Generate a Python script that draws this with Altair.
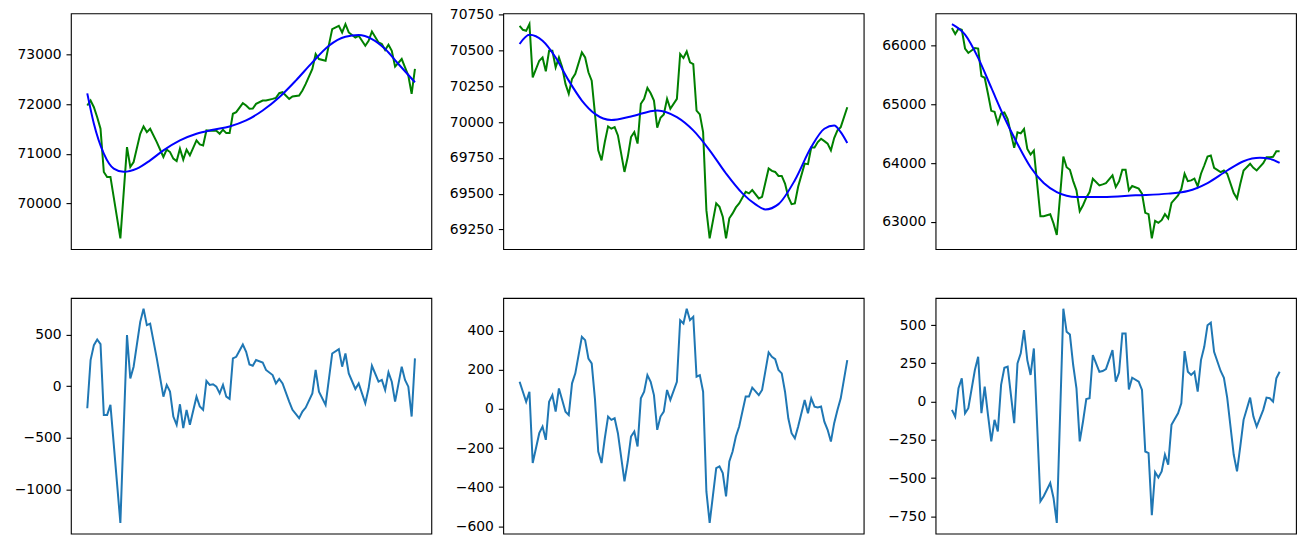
import altair as alt
import pandas as pd

# ---------------- panel 1 ----------------
T1 = [0, 1, 2, 3, 4, 5, 6, 7, 10, 12, 13, 14, 16, 17, 18, 19, 21, 23, 24, 25,
      26, 27, 28, 29, 30, 31, 33, 34, 35, 36, 37, 38, 39, 40, 41, 42, 43, 44, 45, 47,
      48, 49, 50, 51, 53, 54, 56, 57, 58, 59, 61, 62, 64, 65, 66, 68, 69, 70, 72, 74,
      76, 77, 78, 79, 81, 82, 84, 85, 86, 88, 89, 90, 91, 92, 93, 95, 96, 97, 98, 99]
PRICE1 = [71974, 72074, 71940, 71738, 71505, 70632, 70531, 70531, 69292, 71135,
          70733, 70833, 71404, 71551, 71437, 71505, 71236, 70934, 71083, 71034,
          70901, 70853, 71103, 70881, 71083, 70968, 71270, 71189, 71169, 71471,
          71464, 71471, 71464, 71404, 71485, 71417, 71417, 71807, 71841, 72022,
          71974, 71907, 71914, 72008, 72074, 72074, 72108, 72128, 72222, 72242,
          72108, 72155, 72175, 72276, 72410, 72712, 73014, 72913, 72879, 73517,
          73583, 73449, 73618, 73449, 73348, 73382, 73181, 73282, 73469, 73248,
          73215, 73095, 73201, 73080, 72759, 72913, 72745, 72577, 72209, 72712]
RESID1 = [-215, 253, 398, 453, 408, -279, -279, -182, -1327, 495,
          75, 189, 624, 752, 592, 607, 269, -102, 12, -53,
          -295, -375, -176, -408, -230, -375, -102, -198, -230, 50,
          12, 18, -5, -70, 12, -102, -124, 269, 285, 404,
          334, 211, 198, 253, 230, 157, 108, 27, 70, 27,
          -150, -230, -311, -247, -208, -70, 157, -53, -182, 317,
          360, 189, 317, 124, -27, 27, -166, -21, 198, 43,
          60, -37, 134, 43, -150, 189, 60, -5, -295, 269]
TREND_T1 = [0, 2, 5, 8, 11, 15, 19, 23, 28, 33, 38, 43, 48, 53, 58, 63, 68, 73,
            78, 82, 86, 90, 94, 99]
TREND1 = [72220, 71606, 71002, 70700, 70635, 70700, 70867, 71068, 71270, 71404,
          71485, 71551, 71672, 71873, 72141, 72477, 72845, 73181, 73362, 73396,
          73316, 73115, 72813, 72443]

# ---------------- panel 2 ----------------
T2 = [0, 1, 2, 3, 4, 6, 7, 8, 9, 10, 11, 12, 13, 14, 15, 16, 17, 19, 20, 21,
      22, 23, 24, 25, 26, 27, 28, 29, 30, 32, 33, 34, 35, 36, 37, 38, 39, 40, 41, 42,
      43, 44, 45, 46, 48, 49, 50, 51, 52, 53, 54, 55, 56, 57, 58, 60, 61, 62, 63, 64,
      65, 66, 67, 69, 70, 71, 73, 74, 76, 77, 78, 79, 80, 81, 82, 83, 84, 85, 87, 88,
      89, 90, 91, 92, 93, 94, 95, 96, 97, 98, 100]
PRICE2 = [70673, 70645, 70638, 70685, 70313, 70429, 70452, 70355, 70499, 70499,
          70383, 70452, 70383, 70267, 70198, 70302, 70337, 70487, 70452, 70348,
          70290, 70058, 69803, 69733, 69861, 69970, 69954, 69965, 69907, 69652,
          69756, 69896, 69930, 69850, 70128, 70163, 70239, 70202, 70151, 69961,
          70031, 70054, 70163, 70093, 70163, 70476, 70448, 70494, 70418, 70406,
          70081, 70054, 69930, 69385, 69188, 69432, 69408, 69339, 69188, 69328,
          69362, 69404, 69432, 69513, 69502, 69525, 69467, 69478, 69676, 69659,
          69652, 69624, 69624, 69571, 69478, 69427, 69432, 69548, 69710, 69706,
          69822, 69822, 69861, 69884, 69867, 69850, 69803, 69889, 69942, 69965,
          70104]
RESID2 = [139, 88, 37, 88, -277, -124, -90, -158, 37, 71,
          -14, 105, 46, -14, -31, 131, 182, 369, 352, 258,
          233, 50, -218, -277, -150, -39, -56, -48, -124, -371,
          -269, -141, -116, -192, 54, 88, 173, 139, 71, -107,
          -39, -14, 97, 46, 139, 454, 437, 513, 454, 471,
          165, 173, 88, -422, -583, -303, -294, -328, -447, -269,
          -218, -141, -90, 63, 63, 109, 71, 97, 289, 267,
          255, 199, 182, 88, -48, -124, -150, -90, 46, -22,
          54, 12, 7, 12, -65, -107, -167, -73, -5, 54,
          250]
TREND_T2 = [0, 3, 7, 11, 15, 19, 23, 28, 34, 42, 48, 53, 58, 63, 68, 72, 75, 79,
            84, 89, 93, 96, 98, 100]
TREND2 = [70546, 70610, 70569, 70452, 70290, 70151, 70058, 70015, 70040, 70082,
          70035, 69942, 69803, 69641, 69502, 69425, 69390, 69427, 69594, 69826,
          69954, 69977, 69930, 69854]

# ---------------- panel 3 ----------------
T3 = [0, 1, 2, 3, 4, 5, 7, 8, 9, 10, 11, 12, 13, 14, 15, 16, 17, 19, 20, 21,
      22, 23, 24, 25, 27, 28, 30, 31, 32, 34, 35, 36, 37, 38, 39, 40, 41, 42, 43, 45,
      46, 47, 49, 50, 51, 52, 53, 54, 55, 57, 58, 59, 60, 61, 62, 63, 64, 65, 66, 67,
      69, 70, 71, 72, 73, 74, 75, 76, 77, 78, 79, 80, 82, 83, 84, 86, 87, 88, 89, 91,
      92, 93, 95, 96, 97, 98, 99, 100]
PRICE3 = [66301, 66200, 66291, 66274, 65953, 65878, 65963, 65953, 65484, 65455,
          65184, 64892, 64875, 64677, 64846, 64863, 64751, 64261, 64525, 64508,
          64582, 64244, 64147, 64215, 63098, 63098, 63132, 62975, 62777, 64113,
          63932, 63888, 63695, 63538, 63183, 63284, 63414, 63509, 63736, 63623,
          63640, 63662, 63792, 63594, 63690, 63888, 63888, 63538, 63611, 63567,
          63482, 63154, 63132, 62721, 63019, 62985, 63030, 63132, 63059, 63323,
          63453, 63560, 63821, 63695, 63707, 63736, 63606, 63821, 63961, 64113,
          64130, 63922, 63848, 63876, 63821, 63492, 63398, 63651, 63876, 63990,
          63922, 63876, 64000, 64102, 64102, 64110, 64203, 64203]
RESID3 = [-54, -98, 87, 152, -76, -43, 206, 293, -76, 98,
          -87, -260, -119, -195, 109, 221, 228, -141, 249, 315,
          467, 271, 174, 347, -651, -618, -532, -629, -792, 607,
          456, 438, 239, 87, -260, -130, 17, 22, 304, 195,
          200, 213, 336, 130, 190, 445, 445, 80, 156, 130,
          76, -326, -336, -742, -460, -495, -456, -347, -412, -152,
          -76, -11, 330, 195, 174, 195, 65, 271, 358, 499,
          516, 325, 200, 156, 26, -347, -456, -293, -119, 26,
          -98, -163, -54, 26, 22, 0, 152, 195]
TREND_T3 = [0, 4, 8, 12, 16, 20, 24, 28, 32, 38, 46, 56, 66, 72, 78, 84, 89, 94,
            97, 100]
TREND3 = [66369, 66189, 65794, 65286, 64778, 64328, 63932, 63662, 63509, 63425,
          63425, 63453, 63482, 63526, 63662, 63876, 64034, 64091, 64074, 64007]

# ---------------- y tick values ----------------
TICKS_PRICE1 = [70000, 71000, 72000, 73000]
TICKS_PRICE2 = [69250, 69500, 69750, 70000, 70250, 70500, 70750]
TICKS_PRICE3 = [63000, 64000, 65000, 66000]
TICKS_RESID1 = [-1000, -500, 0, 500]
TICKS_RESID2 = [-600, -400, -200, 0, 200, 400]
TICKS_RESID3 = [-750, -500, -250, 0, 250, 500]

FONT = "DejaVu Sans"
W, H = 361, 236


def padded(values, frac=0.05):
    lo, hi = min(values), max(values)
    m = (hi - lo) * frac
    return [lo - m, hi + m]


def x_enc(t):
    return alt.X("t:Q", scale=alt.Scale(domain=padded(t), nice=False, zero=False),
                 axis=None)


def y_enc(domain, ticks):
    return alt.Y(
        "v:Q",
        scale=alt.Scale(domain=domain, nice=False, zero=False),
        axis=alt.Axis(values=ticks, format="d", title=None, grid=False,
                      domain=False, tickSize=4.9, tickWidth=1.1,
                      tickColor="black", labelPadding=4.9, labelFont=FONT,
                      labelFontSize=13.9, labelColor="black",
                      labelOverlap=False),
    )


def price_panel(t, price, tt, trend, ticks):
    raw = pd.DataFrame({"t": t, "v": price})
    smooth = pd.DataFrame({"t": tt, "v": trend})
    y = y_enc(padded(list(price) + list(trend)), ticks)
    x = x_enc(t)
    line_raw = alt.Chart(raw).mark_line(color="green", strokeWidth=2).encode(x=x, y=y)
    line_trend = alt.Chart(smooth).mark_line(
        color="blue", strokeWidth=2, interpolate="monotone").encode(x=x, y=y)
    return alt.layer(line_raw, line_trend).properties(width=W, height=H)


def resid_panel(t, resid, ticks):
    df = pd.DataFrame({"t": t, "v": resid})
    return alt.Chart(df).mark_line(color="#1f77b4", strokeWidth=2).encode(
        x=x_enc(t), y=y_enc(padded(resid), ticks)
    ).properties(width=W, height=H)


chart = alt.concat(
    price_panel(T1, PRICE1, TREND_T1, TREND1, TICKS_PRICE1),
    price_panel(T2, PRICE2, TREND_T2, TREND2, TICKS_PRICE2),
    price_panel(T3, PRICE3, TREND_T3, TREND3, TICKS_PRICE3),
    resid_panel(T1, RESID1, TICKS_RESID1),
    resid_panel(T2, RESID2, TICKS_RESID2),
    resid_panel(T3, RESID3, TICKS_RESID3),
    columns=3,
    spacing={"row": 49, "column": 72},
    bounds="flush",
).properties(
    padding={"left": 13, "top": 6, "right": 0, "bottom": 0},
    background="white",
).configure_view(stroke="black", strokeWidth=1.1)

chart.save("out.html", embed_options={"renderer": "svg", "actions": False})
